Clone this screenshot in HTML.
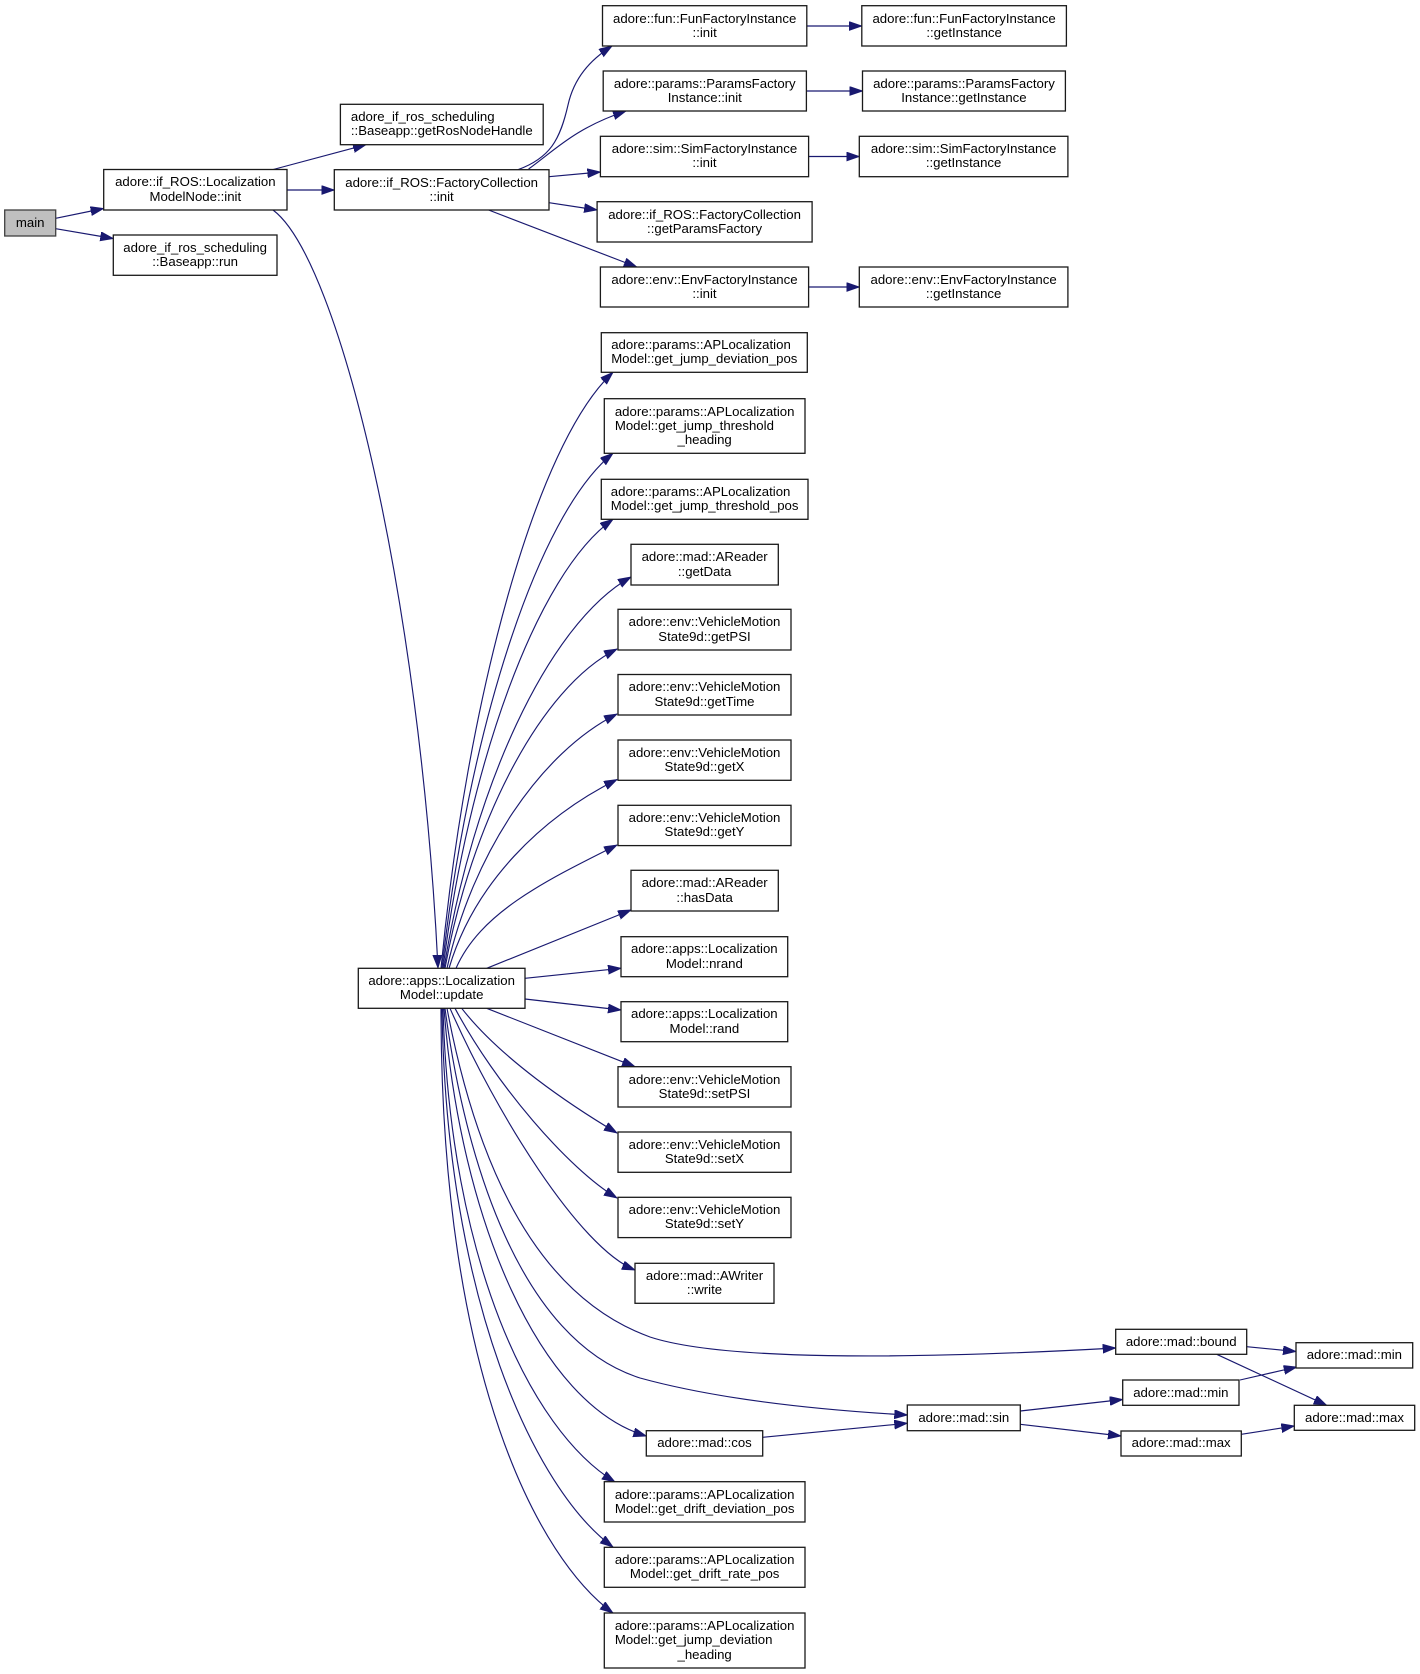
<!DOCTYPE html>
<html>
<head>
<meta charset="utf-8">
<style>
html,body{margin:0;padding:0;background:#fff;}
#wrap{position:relative;width:1420px;height:1674px;overflow:hidden;background:#fff;}
svg{position:absolute;left:0;top:0;}
.n{position:absolute;display:flex;align-items:center;justify-content:center;font-family:"Liberation Sans",Arial,sans-serif;font-size:13.2px;line-height:14.3px;color:#000;white-space:nowrap;}
.t{display:inline-block;}
.t div{text-align:left;}
.t div.c{text-align:center;}
</style>
</head>
<body>
<div id="wrap">
<svg width="1420" height="1674" viewBox="0 0 1420 1674" xmlns="http://www.w3.org/2000/svg">
<defs>
<marker id="a" markerUnits="userSpaceOnUse" markerWidth="14" markerHeight="10" refX="13" refY="4.5" orient="auto">
<path d="M0,0 L13,4.5 L0,9 z" fill="#191970" stroke="#191970" stroke-width="0.8"/>
</marker>
</defs>
<g fill="none" stroke="#191970" stroke-width="1.15" marker-end="url(#a)">
<!-- main -->
<path d="M55.7,218.3 L103.6,208.5"/>
<path d="M55.7,228.7 L113.3,238.5"/>
<!-- LMN -->
<path d="M273.2,169.5 L366,144.7"/>
<path d="M287,190 L334.3,190"/>
<path d="M273,210 C340,260 420,600 438,968"/>
<!-- FC -->
<path d="M518,169.7 C550,158 560,140 568,105 C574,78 590,60 612,46"/>
<path d="M528.6,169 C555,150 575,128 626,111"/>
<path d="M549,176.7 L600.4,172"/>
<path d="M549,202.7 L597.1,210"/>
<path d="M488.6,210 L636.8,267"/>
<!-- factory inits -->
<path d="M806.8,26 L861.8,26"/>
<path d="M806.4,91 L862.5,91"/>
<path d="M808.6,156.5 L859.3,156.5"/>
<path d="M808.6,287 L859.3,287"/>
<!-- update upward -->
<path d="M441,968.3 C466.8,700.1 535.6,443.8 613,372.3"/>
<path d="M442,968.3 C467.7,736.6 536,515.1 613,453.3"/>
<path d="M443,968.3 C468.5,766.2 536.5,573.2 613,519.3"/>
<path d="M444,968.3 C472,792.2 546.9,624 631,577"/>
<path d="M445,968.3 C470.8,824.6 539.6,687.7 617,649"/>
<path d="M447,968.3 C472.5,853.9 540.5,752.3 617,714"/>
<path d="M449,968.3 C474.2,883.3 541.4,817.3 617,779.5"/>
<path d="M456,968.3 C480.2,912.8 544.5,881.2 617,845"/>
<path d="M486.7,968.3 L631,910"/>
<path d="M525,978.3 L621,968.3"/>
<!-- update downward -->
<path d="M525,999 L621,1010"/>
<path d="M486.7,1008.3 L635,1066.7"/>
<path d="M461.7,1008.3 C500.5,1058.2 570,1105 617,1133"/>
<path d="M455,1008.3 C495.5,1084.2 568.4,1169 617,1198"/>
<path d="M450,1008.3 C496,1113 579.5,1248 635,1270"/>
<path d="M447,1008.3 C470,1130 520,1290 650,1337 C720,1360 900,1360 1115.7,1348"/>
<path d="M445,1008.3 C465,1160 520,1340 640,1378 C720,1400 820,1410 907.3,1415"/>
<path d="M444,1008.3 C460,1220 540,1405 646.3,1436"/>
<path d="M443,1008.3 C450,1260 530,1430 615,1482"/>
<path d="M442,1008.3 C446,1300 535,1490 613,1547"/>
<path d="M441,1008.3 C441,1380 540,1560 613,1613"/>
<!-- math -->
<path d="M762.7,1437.3 L907.3,1423.3"/>
<path d="M1020.3,1411 L1122.7,1399.5"/>
<path d="M1020.3,1424.3 L1121,1436"/>
<path d="M1246.7,1346.7 L1296,1351.5"/>
<path d="M1216.7,1354.3 L1326.7,1405.3"/>
<path d="M1240,1380 L1296.7,1367"/>
<path d="M1241.3,1434.3 L1294.3,1426"/>
</g>
<g fill="#fff" stroke="#1a1a1a" stroke-width="1.3">
<rect x="4.7" y="210" width="51" height="26" fill="#bfbfbf" stroke="#404040"/>
<rect x="103.7" y="169.5" width="183.3" height="40.5"/>
<rect x="340.4" y="104.3" width="202.8" height="40.4"/>
<rect x="334.3" y="169.7" width="214.7" height="40.3"/>
<rect x="113.3" y="235" width="163.7" height="40.3"/>
<rect x="602.5" y="5.7" width="204.3" height="40.3"/>
<rect x="861.8" y="5.7" width="204.6" height="40.3"/>
<rect x="603.2" y="71" width="203.2" height="40"/>
<rect x="862.5" y="71" width="202.9" height="40"/>
<rect x="600.4" y="136.3" width="208.2" height="40.4"/>
<rect x="859.3" y="136.3" width="208.6" height="40.4"/>
<rect x="597.1" y="201.7" width="215" height="40.3"/>
<rect x="600.4" y="267" width="208.2" height="40"/>
<rect x="859.3" y="267" width="208.6" height="40"/>
<rect x="601.3" y="332.7" width="206" height="39.6"/>
<rect x="604.3" y="398.7" width="200.7" height="54.6"/>
<rect x="601.3" y="479.3" width="206.7" height="40"/>
<rect x="631" y="544.3" width="147.3" height="40.7"/>
<rect x="618" y="609.3" width="173" height="40.7"/>
<rect x="618" y="674.5" width="173" height="40.5"/>
<rect x="618" y="740" width="173" height="40.3"/>
<rect x="618" y="805.3" width="173" height="40.3"/>
<rect x="631" y="870.3" width="147.3" height="40.7"/>
<rect x="621" y="936.7" width="166.7" height="40"/>
<rect x="621" y="1001.7" width="166.7" height="40"/>
<rect x="618" y="1066.7" width="173" height="40.3"/>
<rect x="618" y="1132" width="173" height="40.3"/>
<rect x="618" y="1197.3" width="173" height="40.3"/>
<rect x="635" y="1263.3" width="139" height="40"/>
<rect x="358.3" y="968.3" width="166.7" height="40"/>
<rect x="1115.7" y="1329.3" width="131" height="25"/>
<rect x="1296" y="1342.7" width="116.7" height="25.3"/>
<rect x="1122.7" y="1380" width="116.3" height="25.3"/>
<rect x="907.3" y="1405" width="113" height="25.7"/>
<rect x="646.3" y="1430.7" width="116.4" height="25.3"/>
<rect x="1121" y="1431" width="120.3" height="25"/>
<rect x="1294.3" y="1405.3" width="120.4" height="25"/>
<rect x="604.3" y="1481.7" width="200.7" height="40.3"/>
<rect x="604.3" y="1547.3" width="200.7" height="40"/>
<rect x="604.3" y="1613" width="200.7" height="55"/>
</g>
</svg>

<div class="n" style="left:4.7px;top:210px;width:51px;height:26px;"><div class="t"><div class="c">main</div></div></div>
<div class="n" style="left:103.7px;top:169.5px;width:183.3px;height:40.5px;"><div class="t"><div>adore::if_ROS::Localization</div><div class="c">ModelNode::init</div></div></div>
<div class="n" style="left:340.4px;top:104.3px;width:202.8px;height:40.4px;"><div class="t"><div>adore_if_ros_scheduling</div><div class="c">::Baseapp::getRosNodeHandle</div></div></div>
<div class="n" style="left:334.3px;top:169.7px;width:214.7px;height:40.3px;"><div class="t"><div>adore::if_ROS::FactoryCollection</div><div class="c">::init</div></div></div>
<div class="n" style="left:113.3px;top:235px;width:163.7px;height:40.3px;"><div class="t"><div>adore_if_ros_scheduling</div><div class="c">::Baseapp::run</div></div></div>
<div class="n" style="left:602.5px;top:5.7px;width:204.3px;height:40.3px;"><div class="t"><div>adore::fun::FunFactoryInstance</div><div class="c">::init</div></div></div>
<div class="n" style="left:861.8px;top:5.7px;width:204.6px;height:40.3px;"><div class="t"><div>adore::fun::FunFactoryInstance</div><div class="c">::getInstance</div></div></div>
<div class="n" style="left:603.2px;top:71px;width:203.2px;height:40px;"><div class="t"><div>adore::params::ParamsFactory</div><div class="c">Instance::init</div></div></div>
<div class="n" style="left:862.5px;top:71px;width:202.9px;height:40px;"><div class="t"><div>adore::params::ParamsFactory</div><div class="c">Instance::getInstance</div></div></div>
<div class="n" style="left:600.4px;top:136.3px;width:208.2px;height:40.4px;"><div class="t"><div>adore::sim::SimFactoryInstance</div><div class="c">::init</div></div></div>
<div class="n" style="left:859.3px;top:136.3px;width:208.6px;height:40.4px;"><div class="t"><div>adore::sim::SimFactoryInstance</div><div class="c">::getInstance</div></div></div>
<div class="n" style="left:597.1px;top:201.7px;width:215px;height:40.3px;"><div class="t"><div>adore::if_ROS::FactoryCollection</div><div class="c">::getParamsFactory</div></div></div>
<div class="n" style="left:600.4px;top:267px;width:208.2px;height:40px;"><div class="t"><div>adore::env::EnvFactoryInstance</div><div class="c">::init</div></div></div>
<div class="n" style="left:859.3px;top:267px;width:208.6px;height:40px;"><div class="t"><div>adore::env::EnvFactoryInstance</div><div class="c">::getInstance</div></div></div>
<div class="n" style="left:601.3px;top:332.7px;width:206px;height:39.6px;"><div class="t"><div>adore::params::APLocalization</div><div class="c">Model::get_jump_deviation_pos</div></div></div>
<div class="n" style="left:604.3px;top:398.7px;width:200.7px;height:54.6px;"><div class="t"><div>adore::params::APLocalization</div><div>Model::get_jump_threshold</div><div class="c">_heading</div></div></div>
<div class="n" style="left:601.3px;top:479.3px;width:206.7px;height:40px;"><div class="t"><div>adore::params::APLocalization</div><div class="c">Model::get_jump_threshold_pos</div></div></div>
<div class="n" style="left:631px;top:544.3px;width:147.3px;height:40.7px;"><div class="t"><div>adore::mad::AReader</div><div class="c">::getData</div></div></div>
<div class="n" style="left:618px;top:609.3px;width:173px;height:40.7px;"><div class="t"><div>adore::env::VehicleMotion</div><div class="c">State9d::getPSI</div></div></div>
<div class="n" style="left:618px;top:674.5px;width:173px;height:40.5px;"><div class="t"><div>adore::env::VehicleMotion</div><div class="c">State9d::getTime</div></div></div>
<div class="n" style="left:618px;top:740px;width:173px;height:40.3px;"><div class="t"><div>adore::env::VehicleMotion</div><div class="c">State9d::getX</div></div></div>
<div class="n" style="left:618px;top:805.3px;width:173px;height:40.3px;"><div class="t"><div>adore::env::VehicleMotion</div><div class="c">State9d::getY</div></div></div>
<div class="n" style="left:631px;top:870.3px;width:147.3px;height:40.7px;"><div class="t"><div>adore::mad::AReader</div><div class="c">::hasData</div></div></div>
<div class="n" style="left:621px;top:936.7px;width:166.7px;height:40px;"><div class="t"><div>adore::apps::Localization</div><div class="c">Model::nrand</div></div></div>
<div class="n" style="left:621px;top:1001.7px;width:166.7px;height:40px;"><div class="t"><div>adore::apps::Localization</div><div class="c">Model::rand</div></div></div>
<div class="n" style="left:618px;top:1066.7px;width:173px;height:40.3px;"><div class="t"><div>adore::env::VehicleMotion</div><div class="c">State9d::setPSI</div></div></div>
<div class="n" style="left:618px;top:1132px;width:173px;height:40.3px;"><div class="t"><div>adore::env::VehicleMotion</div><div class="c">State9d::setX</div></div></div>
<div class="n" style="left:618px;top:1197.3px;width:173px;height:40.3px;"><div class="t"><div>adore::env::VehicleMotion</div><div class="c">State9d::setY</div></div></div>
<div class="n" style="left:635px;top:1263.3px;width:139px;height:40px;"><div class="t"><div>adore::mad::AWriter</div><div class="c">::write</div></div></div>
<div class="n" style="left:358.3px;top:968.3px;width:166.7px;height:40px;"><div class="t"><div>adore::apps::Localization</div><div class="c">Model::update</div></div></div>
<div class="n" style="left:1115.7px;top:1329.3px;width:131px;height:25px;"><div class="t"><div class="c">adore::mad::bound</div></div></div>
<div class="n" style="left:1296px;top:1342.7px;width:116.7px;height:25.3px;"><div class="t"><div class="c">adore::mad::min</div></div></div>
<div class="n" style="left:1122.7px;top:1380px;width:116.3px;height:25.3px;"><div class="t"><div class="c">adore::mad::min</div></div></div>
<div class="n" style="left:907.3px;top:1405px;width:113px;height:25.7px;"><div class="t"><div class="c">adore::mad::sin</div></div></div>
<div class="n" style="left:646.3px;top:1430.7px;width:116.4px;height:25.3px;"><div class="t"><div class="c">adore::mad::cos</div></div></div>
<div class="n" style="left:1121px;top:1431px;width:120.3px;height:25px;"><div class="t"><div class="c">adore::mad::max</div></div></div>
<div class="n" style="left:1294.3px;top:1405.3px;width:120.4px;height:25px;"><div class="t"><div class="c">adore::mad::max</div></div></div>
<div class="n" style="left:604.3px;top:1481.7px;width:200.7px;height:40.3px;"><div class="t"><div>adore::params::APLocalization</div><div class="c">Model::get_drift_deviation_pos</div></div></div>
<div class="n" style="left:604.3px;top:1547.3px;width:200.7px;height:40px;"><div class="t"><div>adore::params::APLocalization</div><div class="c">Model::get_drift_rate_pos</div></div></div>
<div class="n" style="left:604.3px;top:1613px;width:200.7px;height:55px;"><div class="t"><div>adore::params::APLocalization</div><div>Model::get_jump_deviation</div><div class="c">_heading</div></div></div>
</div>
</body>
</html>
